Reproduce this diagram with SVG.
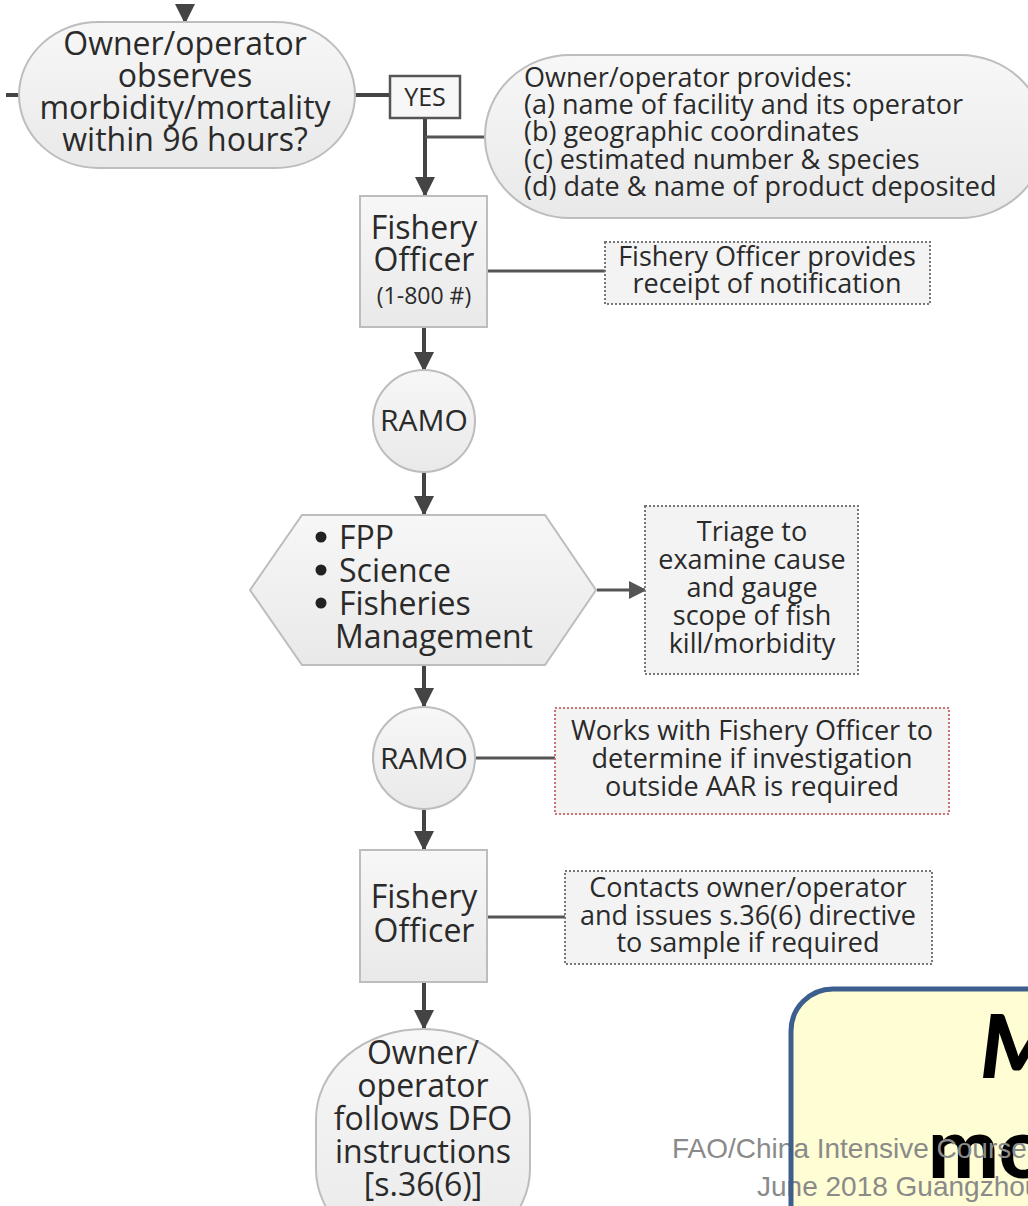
<svg xmlns="http://www.w3.org/2000/svg" width="1028" height="1206" viewBox="0 0 1028 1206">
<defs>
<linearGradient id="g" x1="0" y1="0" x2="0" y2="1"><stop offset="0" stop-color="#f7f7f7"/><stop offset="1" stop-color="#e9e9e9"/></linearGradient>
<marker id="ah" viewBox="0 0 10 10" refX="9" refY="5" markerWidth="5" markerHeight="5" orient="auto" markerUnits="strokeWidth"><path d="M0,0 L10,5 L0,10 z" fill="#444"/></marker>
<marker id="ahs" viewBox="0 0 10 10" refX="9" refY="5" markerWidth="6" markerHeight="6" orient="auto" markerUnits="strokeWidth"><path d="M0,0 L10,5 L0,10 z" fill="#555"/></marker>
</defs>
<style>
.n{fill:url(#g);stroke:#bdbdbd;stroke-width:2}
.d{fill:#f3f3f3;stroke:#777;stroke-width:2;stroke-dasharray:2 2}
.r{fill:#f3f3f3;stroke:#d07070;stroke-width:2;stroke-dasharray:2 2}
.t{font-family:"Open Sans","DejaVu Sans",sans-serif;fill:#2a2a2a;text-anchor:middle}
.tl{font-family:"Open Sans","DejaVu Sans",sans-serif;fill:#2a2a2a}
.c{stroke:#444;stroke-width:4;fill:none}
.cs{stroke:#555;stroke-width:3;fill:none}
</style>
<rect width="1028" height="1206" fill="#ffffff"/>
<g id="connectors">
<path class="c" d="M185,10 L185,22" marker-end="url(#ah)"/>
<path class="c" d="M6,95 L20,95"/>
<path class="c" d="M354,95 L390,95"/>
<path class="c" d="M425,118 L425,195" marker-end="url(#ah)"/>
<path class="cs" d="M425,137 L486,137"/>
<path class="cs" d="M487,271 L605,271"/>
<path class="c" d="M424,327 L424,370" marker-end="url(#ah)"/>
<path class="c" d="M424,472 L424,514" marker-end="url(#ah)"/>
<path class="cs" d="M597,590 L645,590" marker-end="url(#ahs)"/>
<path class="c" d="M424,665 L424,706" marker-end="url(#ah)"/>
<path class="cs" d="M476,758 L555,758"/>
<path class="c" d="M424,810 L424,849" marker-end="url(#ah)"/>
<path class="cs" d="M487,917 L565,917"/>
<path class="c" d="M424,982 L424,1028" marker-end="url(#ah)"/>
</g>
<g id="start">
<rect class="n" x="19" y="22" width="336" height="146" rx="80" ry="73"/>
<text class="t" font-size="32"><tspan x="185" y="55">Owner/operator</tspan><tspan x="185" y="87">observes</tspan><tspan x="185" y="119">morbidity/mortality</tspan><tspan x="185" y="151">within 96 hours?</tspan></text>
</g>
<g id="yes">
<rect x="390" y="76" width="70" height="42" fill="#f7f7f7" stroke="#555" stroke-width="2.5"/>
<text class="t" x="425" y="106" font-size="25">YES</text>
</g>
<g id="provides">
<rect class="n" x="485" y="55" width="560" height="163" rx="85" ry="81"/>
<text class="tl" font-size="27"><tspan x="524" y="87">Owner/operator provides:</tspan><tspan x="524" y="114">(a) name of facility and its operator</tspan><tspan x="524" y="141">(b) geographic coordinates</tspan><tspan x="524" y="169">(c) estimated number &amp; species</tspan><tspan x="524" y="196">(d) date &amp; name of product deposited</tspan></text>
</g>
<g id="officer1">
<rect class="n" x="360" y="196" width="127" height="131"/>
<text class="t" font-size="32"><tspan x="424" y="239">Fishery</tspan><tspan x="424" y="271">Officer</tspan></text>
<text class="t" x="424" y="304" font-size="23">(1-800 #)</text>
</g>
<g id="receipt">
<rect class="d" x="605" y="242" width="325" height="62"/>
<text class="t" font-size="27"><tspan x="767" y="266">Fishery Officer provides</tspan><tspan x="767" y="293">receipt of notification</tspan></text>
</g>
<g id="ramo1">
<circle class="n" cx="424" cy="421" r="51"/>
<text class="t" x="424" y="431" font-size="30">RAMO</text>
</g>
<g id="groups">
<polygon class="n" points="250,590 302,515 545,515 596,590 545,665 302,665"/>
<circle cx="321" cy="537" r="5.5" fill="#222"/>
<circle cx="321" cy="570" r="5.5" fill="#222"/>
<circle cx="321" cy="603" r="5.5" fill="#222"/>
<text class="tl" font-size="32"><tspan x="339" y="549">FPP</tspan><tspan x="339" y="582">Science</tspan><tspan x="339" y="615">Fisheries</tspan><tspan x="335" y="648">Management</tspan></text>
</g>
<g id="triage">
<rect class="d" x="645" y="506" width="213" height="168"/>
<text class="t" font-size="27"><tspan x="752" y="541">Triage to</tspan><tspan x="752" y="569">examine cause</tspan><tspan x="752" y="597">and gauge</tspan><tspan x="752" y="625">scope of fish</tspan><tspan x="752" y="653">kill/morbidity</tspan></text>
</g>
<g id="ramo2">
<circle class="n" cx="424" cy="758" r="51"/>
<text class="t" x="424" y="769" font-size="30">RAMO</text>
</g>
<g id="works">
<rect class="r" x="555" y="708" width="394" height="106"/>
<text class="t" font-size="27"><tspan x="752" y="740">Works with Fishery Officer to</tspan><tspan x="752" y="768">determine if investigation</tspan><tspan x="752" y="796">outside AAR is required</tspan></text>
</g>
<g id="officer2">
<rect class="n" x="360" y="850" width="127" height="132"/>
<text class="t" font-size="32"><tspan x="424" y="908">Fishery</tspan><tspan x="424" y="942">Officer</tspan></text>
</g>
<g id="contacts">
<rect class="d" x="565" y="871" width="367" height="93"/>
<text class="t" font-size="27"><tspan x="748" y="897">Contacts owner/operator</tspan><tspan x="748" y="925">and issues s.36(6) directive</tspan><tspan x="748" y="952">to sample if required</tspan></text>
</g>
<g id="follows">
<rect class="n" x="316" y="1029" width="214" height="230" rx="107" ry="90"/>
<text class="t" font-size="32"><tspan x="423" y="1064">Owner/</tspan><tspan x="423" y="1097">operator</tspan><tspan x="423" y="1130">follows DFO</tspan><tspan x="423" y="1163">instructions</tspan><tspan x="423" y="1196">[s.36(6)]</tspan></text>
</g>
<g id="note">
<rect x="791" y="989" width="300" height="280" rx="42" fill="#fefdd3"/>
<text font-family="Lato,'DejaVu Sans',sans-serif" font-weight="900" font-style="italic" font-size="88" fill="#000"><tspan x="980" y="1078">M</tspan></text>
<text font-family="Lato,'DejaVu Sans',sans-serif" font-weight="900" font-size="84" fill="#000"><tspan x="928" y="1178">mo</tspan></text>
<text font-family="Liberation Sans,Arial,sans-serif" font-size="28" fill="#8a8a8a"><tspan x="672" y="1158">FAO/China Intensive Course</tspan><tspan x="757" y="1196">June 2018 Guangzhou</tspan></text>
<rect x="791" y="989" width="300" height="280" rx="42" fill="none" stroke="#3c5f8e" stroke-width="5"/>
</g>
</svg>
